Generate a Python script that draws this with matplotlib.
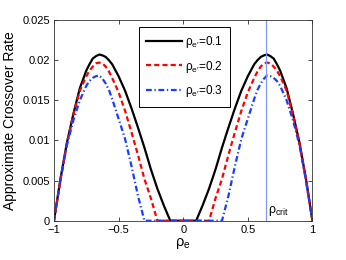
import numpy as np
import matplotlib
matplotlib.use("Agg")
import matplotlib.pyplot as plt

plt.rcParams['font.family'] = ['Liberation Sans', 'DejaVu Sans']
plt.rcParams['mathtext.fontset'] = 'custom'
plt.rcParams['mathtext.rm'] = 'Liberation Sans'
plt.rcParams['mathtext.it'] = 'Liberation Sans'

# data
rho = [-1.00, -0.95, -0.90, -0.85, -0.80, -0.75, -0.725, -0.70, -0.675, -0.65,
       -0.625, -0.60, -0.575, -0.55, -0.50, -0.45, -0.40, -0.35, -0.30, -0.25,
       -0.20, -0.15, -0.10, -0.05, 0.00,
       0.05, 0.10, 0.15, 0.20, 0.25, 0.30, 0.35, 0.40, 0.45, 0.50,
       0.55, 0.575, 0.60, 0.625, 0.65, 0.675, 0.70, 0.725, 0.75, 0.80,
       0.85, 0.90, 0.95, 1.00]

rate_01 = [0, 0.0052, 0.0097, 0.0133, 0.0165, 0.0187, 0.0195, 0.0202, 0.0205, 0.0207,
           0.0206, 0.0204, 0.0200, 0.0195, 0.0180, 0.0162, 0.0140, 0.0116, 0.0091, 0.0064,
           0.0040, 0.0019, 0, 0, 0,
           0, 0, 0.0019, 0.0040, 0.0064, 0.0091, 0.0116, 0.0140, 0.0162, 0.0180,
           0.0195, 0.0200, 0.0204, 0.0206, 0.0207, 0.0205, 0.0202, 0.0195, 0.0187, 0.0165,
           0.0133, 0.0097, 0.0052, 0]

rate_02 = [0, 0.0051, 0.0096, 0.0132, 0.0162, 0.0180, 0.0187, 0.0192, 0.0196, 0.0197,
           0.0196, 0.0192, 0.0186, 0.0178, 0.0160, 0.0137, 0.0110, 0.0082, 0.0052, 0.0028,
           0, 0, 0, 0, 0,
           0, 0, 0, 0, 0.0028, 0.0052, 0.0082, 0.0110, 0.0137, 0.0160,
           0.0178, 0.0186, 0.0192, 0.0196, 0.0197, 0.0196, 0.0192, 0.0187, 0.0180, 0.0162,
           0.0132, 0.0096, 0.0051, 0]

rate_03 = [0, 0.0050, 0.0094, 0.0125, 0.0150, 0.0168, 0.0174, 0.0178, 0.0180, 0.0181,
           0.0177, 0.0171, 0.0163, 0.0152, 0.0127, 0.0102, 0.0068, 0.0031, 0, 0,
           0, 0, 0, 0, 0,
           0, 0, 0, 0, 0, 0, 0.0031, 0.0068, 0.0102, 0.0127,
           0.0152, 0.0163, 0.0171, 0.0177, 0.0181, 0.0180, 0.0178, 0.0174, 0.0168, 0.0150,
           0.0125, 0.0094, 0.0050, 0]

rho_crit = 0.637

xticks = [-1, -0.5, 0, 0.5, 1]
xticklabels = ['\u22121', '\u22120.5', '0', '0.5', '1']
yticks = [0, 0.005, 0.01, 0.015, 0.02, 0.025]
yticklabels = ['0', '0.005', '0.01', '0.015', '0.02', '0.025']

fig = plt.figure(figsize=(3.46, 2.60), dpi=100)
ax = fig.add_axes([0.156, 0.151, 0.747, 0.772])

ax.plot(rho, rate_01, color='black', lw=1.6, label=r'$\rho_{e\prime}$=0.1')
ax.plot(rho, rate_02, color='#ff0000', lw=1.6, dashes=(2.3, 1.4), label=r'$\rho_{e\prime}$=0.2')
ax.plot(rho, rate_03, color='#1a3cff', lw=1.6, dashes=(2.6, 1.2, 0.6, 1.2), label=r'$\rho_{e\prime}$=0.3')
ax.axvline(rho_crit, color='#8099f2', lw=0.9)
ax.text(rho_crit + 0.02, 0.0003, r'$\rho_{\rm crit}$', fontsize=9, ha='left', va='bottom')

ax.set_xlim(-1, 1)
ax.set_ylim(0, 0.025)
ax.set_xticks(xticks)
ax.set_xticklabels(xticklabels)
ax.set_yticks(yticks)
ax.set_yticklabels(yticklabels)
ax.tick_params(direction='in', length=3, width=0.5, labelsize=8, top=True, right=True, pad=3)
for s in ax.spines.values():
    s.set_linewidth(0.6)
    s.set_color('#333333')

ax.set_xlabel(r'$\rho_{\rm e}$', fontsize=10.5, labelpad=1)
ax.set_ylabel('Approximate Crossover Rate', fontsize=10, labelpad=4)

leg = ax.legend(loc='upper left', bbox_to_anchor=(0.33, 0.967), borderaxespad=0,
                fontsize=8.5, handlelength=3.0, handletextpad=0.3, labelspacing=0.75,
                borderpad=0.6, fancybox=False, framealpha=1)
leg.get_frame().set_edgecolor('black')
leg.get_frame().set_linewidth(0.7)

fig.savefig('out.png', dpi=100)
